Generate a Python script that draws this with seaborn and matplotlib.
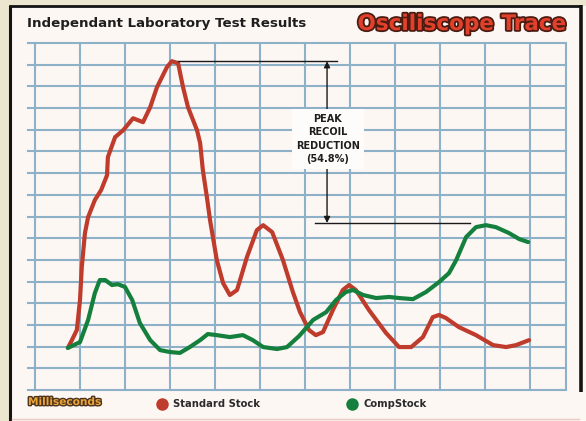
import numpy as np
import pandas as pd
import matplotlib
matplotlib.use("Agg")
import matplotlib.pyplot as plt
import matplotlib.patheffects as pe
from matplotlib.patches import Rectangle
import seaborn as sns

# ---------------- data (x: grid units of time, y: grid units of recoil) ----------------
std_ms = [0.73, 0.82, 0.93, 1.00, 1.04, 1.11, 1.18, 1.33, 1.47, 1.60, 1.62, 1.78, 1.96, 2.18,
          2.40, 2.56, 2.71, 2.93, 3.04, 3.18, 3.29, 3.40, 3.60, 3.67, 3.73, 3.82, 3.89, 4.04,
          4.18, 4.33, 4.49, 4.71, 4.93, 5.07, 5.27, 5.51, 5.73, 5.89, 6.09, 6.24, 6.40, 6.62,
          6.84, 6.98, 7.13, 7.42, 7.80, 8.09, 8.36, 8.62, 8.84, 8.98, 9.13, 9.42, 9.80, 10.18,
          10.47, 10.69, 10.98]
std_val = [1.94, 2.30, 2.77, 4.15, 5.67, 7.24, 7.97, 8.76, 9.22, 9.90, 10.74, 11.66, 11.98, 12.53,
           12.35, 13.04, 13.96, 14.88, 15.16, 15.07, 13.96, 13.04, 11.98, 11.38, 10.14, 8.89, 7.83, 5.99,
           4.93, 4.38, 4.61, 6.13, 7.37, 7.60, 7.28, 5.99, 4.52, 3.59, 2.76, 2.53, 2.67, 3.69,
           4.61, 4.84, 4.61, 3.69, 2.63, 1.98, 1.98, 2.44, 3.36, 3.46, 3.32, 2.90, 2.53, 2.07,
           1.98, 2.07, 2.30]

comp_ms = [0.73, 1.00, 1.18, 1.33, 1.44, 1.56, 1.71, 1.84, 2.00, 2.16, 2.33, 2.56, 2.78, 3.00,
           3.22, 3.44, 3.67, 3.84, 4.04, 4.33, 4.62, 4.84, 5.07, 5.38, 5.60, 5.87, 6.18, 6.47,
           6.69, 6.91, 7.07, 7.29, 7.58, 7.87, 8.09, 8.40, 8.69, 8.98, 9.20, 9.36, 9.58, 9.80,
           10.02, 10.24, 10.53, 10.76, 10.96]
comp_val = [1.94, 2.21, 3.23, 4.47, 5.07, 5.07, 4.84, 4.88, 4.75, 4.15, 3.09, 2.30, 1.84, 1.75,
            1.71, 1.98, 2.30, 2.58, 2.53, 2.44, 2.53, 2.30, 1.98, 1.89, 1.98, 2.49, 3.23, 3.59,
            4.15, 4.52, 4.61, 4.38, 4.24, 4.29, 4.24, 4.19, 4.52, 4.98, 5.39, 5.99, 7.05, 7.51,
            7.60, 7.51, 7.24, 6.96, 6.82]

series_names = ["Standard Stock", "CompStock"]
series_colors = ["#bf3b2c", "#15803d"]
x_ticks = list(range(0, 12))
y_ticks = list(range(0, 17))
title_left = "Independant Laboratory Test Results"
title_right = "Osciliscope Trace"
x_label = "Milliseconds"
note_lines = ["PEAK", "RECOIL", "REDUCTION", "(54.8%)"]

df = pd.concat([
    pd.DataFrame({"ms": std_ms, "recoil": std_val, "series": series_names[0]}),
    pd.DataFrame({"ms": comp_ms, "recoil": comp_val, "series": series_names[1]}),
], ignore_index=True)

# ---------------- figure ----------------
W, H = 586, 421
fig = plt.figure(figsize=(W / 100, H / 100), dpi=100)
fig.patch.set_facecolor("#ece5cf")

bg = fig.add_axes([0, 0, 1, 1], zorder=0)
bg.set_xlim(0, W)
bg.set_ylim(H, 0)
bg.axis("off")
bg.add_patch(Rectangle((10, 6), W - 10, H - 6, facecolor="#fdf7f4", edgecolor="none"))
bg.plot([10, 10], [5, H], color="#141414", lw=2.2, solid_capstyle="butt")
bg.plot([9, 581], [6, 6], color="#141414", lw=2.0, solid_capstyle="butt")
bg.plot([580.5, 580.5], [5, 392], color="#141414", lw=2.6, solid_capstyle="butt")
bg.plot([12, 579], [418.5, 418.5], color="#e9c9c0", lw=1.0)

bg.text(27, 24, title_left, fontsize=9.6, fontweight="bold", color="#1e1e1e",
        ha="left", va="center")
bg.text(566, 24, title_right, fontsize=15.5, fontweight="heavy", color="#e2402a",
        ha="right", va="center",
        path_effects=[pe.withStroke(linewidth=2.6, foreground="#4a1c12")])
bg.text(28, 402, x_label, fontsize=7.6, fontweight="heavy", color="#eba436",
        ha="left", va="center",
        path_effects=[pe.withStroke(linewidth=2.0, foreground="#4a3320")])
for cx, tx, name, col in [(162, 173, series_names[0], series_colors[0]),
                          (352, 363, series_names[1], series_colors[1])]:
    bg.plot([cx], [404], marker="o", markersize=9, color=col, markeredgewidth=0)
    bg.text(tx, 404, name, fontsize=7.2, fontweight="bold", color="#2a2a2a",
            ha="left", va="center")

# ---------------- main axes ----------------
left_px, right_px, top_px, bot_px = 28, 566, 43, 390
ax = fig.add_axes([left_px / W, (H - bot_px) / H, (right_px - left_px) / W, (bot_px - top_px) / H],
                  zorder=1)
ax.patch.set_alpha(0)
unit_x = 45.0
ax.set_xlim(-(35 - left_px) / unit_x, (right_px - 35) / unit_x)
ax.set_ylim(0, 16)

grid_col = "#8db1c6"
ax.set_xticks(x_ticks)
ax.set_yticks(y_ticks)
ax.grid(True, color=grid_col, lw=1.5)
for gl in ax.get_xgridlines() + ax.get_ygridlines():
    gl.set_clip_on(False)
ax.axvline(ax.get_xlim()[1], color=grid_col, lw=1.5, clip_on=False)
ax.tick_params(length=0, labelbottom=False, labelleft=False)
for s in ax.spines.values():
    s.set_visible(False)
ax.set_axisbelow(True)

sns.lineplot(data=df, x="ms", y="recoil", hue="series", hue_order=series_names,
             palette=dict(zip(series_names, series_colors)), linewidth=3.0,
             estimator=None, sort=False, legend=False, ax=ax)
for ln in ax.get_lines():
    ln.set_solid_capstyle("round")
    ln.set_solid_joinstyle("round")
ax.set_xlabel("")
ax.set_ylabel("")

# ---------------- annotation ----------------
peak_std = max(std_val)
peak_comp = max(comp_val)
ax_x = 6.49
ax.plot([3.18, 6.71], [peak_std, peak_std], color="#1a1a1a", lw=1.0, zorder=4)
ax.plot([6.22, 9.67], [peak_comp + 0.1, peak_comp + 0.1], color="#1a1a1a", lw=1.0, zorder=4)
ax.annotate("", xy=(ax_x, peak_std), xytext=(ax_x, 12.9),
            arrowprops=dict(arrowstyle="-|>", color="#1a1a1a", lw=1.0, mutation_scale=9,
                            shrinkA=0, shrinkB=0), zorder=4)
ax.annotate("", xy=(ax_x, peak_comp + 0.1), xytext=(ax_x, 10.23),
            arrowprops=dict(arrowstyle="-|>", color="#1a1a1a", lw=1.0, mutation_scale=9,
                            shrinkA=0, shrinkB=0), zorder=4)
ax.text(6.51, 11.57, "\n".join(note_lines), fontsize=7.0, fontweight="bold", color="#1e1e1e",
        ha="center", va="center", linespacing=1.45, zorder=5,
        bbox=dict(boxstyle="square,pad=0.45", facecolor="#fefcfb", edgecolor="none"))

fig.savefig("out.png", dpi=100, facecolor=fig.get_facecolor())
